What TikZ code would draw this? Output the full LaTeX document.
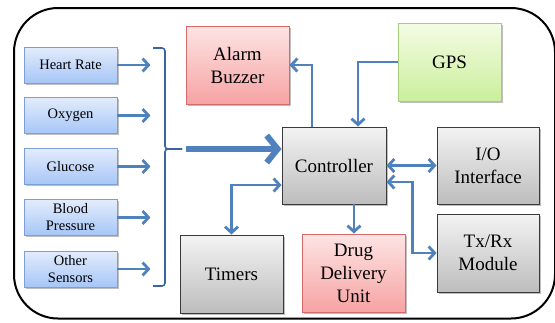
\documentclass[tikz,border=0pt]{standalone}
\usepackage{fontspec}
\setmainfont{Liberation Serif}
\usetikzlibrary{arrows.meta,shadows}

\definecolor{arrowblue}{HTML}{4F81BD}
\definecolor{bracecol}{HTML}{3C65A0}
\definecolor{sensTop}{HTML}{E3ECFC}
\definecolor{sensBot}{HTML}{A6C6F7}
\definecolor{sensLine}{HTML}{7C9FD8}
\definecolor{redTop}{HTML}{FEE4E4}
\definecolor{redBot}{HTML}{F6A3A3}
\definecolor{redLine}{HTML}{D46A6A}
\definecolor{grnTop}{HTML}{F4FCE4}
\definecolor{grnBot}{HTML}{CBEF9C}
\definecolor{grnLine}{HTML}{A6CD7C}
\definecolor{gryTop}{HTML}{F3F3F3}
\definecolor{gryBot}{HTML}{BDBDBD}
\definecolor{gryLine}{HTML}{3A3A3A}

\tikzset{
  shade box/.style={draw, line width=0.9pt, align=center, inner sep=2pt,
    drop shadow={shadow xshift=1.5pt, shadow yshift=-1.5pt, opacity=0.25, fill=black}},
  sensor/.style={shade box, top color=sensTop, bottom color=sensBot, draw=sensLine,
    minimum width=93pt, minimum height=36pt,
    font=\fontsize{14.5}{17}\selectfont},
  bigbox/.style={shade box, minimum width=103pt, minimum height=78pt,
    font=\fontsize{19}{23}\selectfont},
  redbox/.style={bigbox, top color=redTop, bottom color=redBot, draw=redLine},
  grnbox/.style={bigbox, top color=grnTop, bottom color=grnBot, draw=grnLine},
  grybox/.style={bigbox, top color=gryTop, bottom color=gryBot, draw=gryLine},
  tipsmall/.tip={Straight Barb[length=6pt,width=13pt]},
  arr/.style={draw=arrowblue, line width=2.8pt, -tipsmall},
  arrboth/.style={draw=arrowblue, line width=2.8pt, tipsmall-tipsmall},
  bigarr/.style={draw=arrowblue, line width=6pt,
    -{Straight Barb[length=11pt,width=27pt]}},
}

\begin{document}
\begin{tikzpicture}[x=1pt,y=-1pt]
\useasboundingbox (0,0) rectangle (555,322);

% outer frame
\draw[line width=2pt, rounded corners=44pt] (14,8) rectangle (555,318.5);

% sensors
\node[sensor] (hr)  at (70.5,65)    {Heart Rate};
\node[sensor] (ox)  at (70.5,115.5) {Oxygen};
\node[sensor] (gl)  at (70.5,166.5) {Glucose};
\node[sensor] (bp)  at (70.5,217.5) {Blood\\Pressure};
\node[sensor] (os)  at (70.5,269)   {Other\\Sensors};

% main blocks
\node[redbox] (alarm) at (237.5,65)  {Alarm\\Buzzer};
\node[grnbox] (gps)   at (449.5,62)  {GPS};
\node[grybox, minimum width=104pt, minimum height=77pt] (ctrl) at (334,165.5) {Controller};
\node[grybox, minimum width=102pt, minimum height=77pt] (io)   at (488,165.5) {I/O\\Interface};
\node[grybox, minimum width=102pt] (tx)     at (488,253)  {Tx/Rx\\Module};
\node[grybox] (timers) at (231.5,274) {Timers};
\node[redbox] (drug)   at (353.5,273) {Drug\\Delivery\\Unit};

% sensor arrows
\foreach \s in {hr,ox,gl,bp,os}
  \draw[arr] (\s.east) -- ++(33,0);

% collecting brace
\coordinate (btop) at (153,48);
\coordinate (bbot) at (153,286);
\coordinate (btip) at (182,149);
\draw[bracecol, line width=1.6pt, rounded corners=3pt]
  (btop) -- (165,48) -- (165,149) -- (btip);
\draw[bracecol, line width=1.6pt, rounded corners=3pt]
  (btip) -- (165,149) -- (165,286) -- (bbot);

% combined input to controller
\draw[bigarr] ([xshift=4pt]btip) -- (ctrl.west |- btip);

% controller links
\draw[arr] ([xshift=-22pt]ctrl.north) |- (alarm.east);
\draw[arr] (gps.west) -| ([xshift=24pt]ctrl.north);
\draw[arrboth] (ctrl.east) -- (io.west);
\draw[arrboth] ([yshift=-16.5pt]ctrl.east) -- ++(26,0) |- (tx.west);
\draw[arr] ([xshift=20pt]ctrl.south) -- ([xshift=20pt]ctrl.south |- drug.north);
\draw[arrboth] (timers.north) |- ([yshift=-19.5pt]ctrl.west);
\end{tikzpicture}
\end{document}
